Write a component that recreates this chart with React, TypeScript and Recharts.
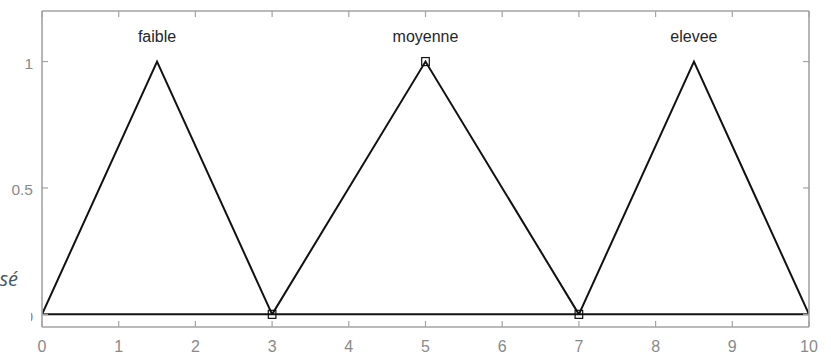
import React from 'react';
import { ComposedChart, Line, Scatter, XAxis, YAxis } from 'recharts';

// Triangular membership functions: feet (a, c) and peak (b)
const mfNames = ['faible', 'moyenne', 'elevee'];
const mfA = [0, 3, 7];
const mfB = [1.5, 5, 8.5];
const mfC = [3, 7, 10];

// Highlighted points (square markers)
const markerX = [3, 5, 7];
const markerY = [0, 1, 0];

// Universe of discourse baseline
const baseX = [0, 10];
const baseY = [0, 0];

const xTicks = [0, 1, 2, 3, 4, 5, 6, 7, 8, 9, 10];
const yTicks = [0, 0.5, 1];
const yLabels = ['0', '0.5', '1'];

const labelLevel = 1.1;

const W = 831;
const H = 354;
const BOX = '#a3a3a3';
const TICK_TXT = '#8a8a8a';
const FONT = '"Liberation Sans", Arial, sans-serif';
const TICK_LEN = 6;

const mfSeries = mfNames.map((name, i) => ({
  name,
  points: [
    { x: mfA[i], y: 0 },
    { x: mfB[i], y: 1 },
    { x: mfC[i], y: 0 },
  ],
}));
const markers = markerX.map((x, i) => ({ x, y: markerY[i] }));
const baseline = baseX.map((x, i) => ({ x, y: baseY[i] }));
const mfLabels = mfNames.map((name, i) => ({ x: mfB[i], y: labelLevel, name }));

const BottomTick = (p: any) => (
  <g>
    <line x1={p.x} x2={p.x} y1={p.y} y2={p.y - TICK_LEN} stroke={BOX} strokeWidth={1.2} />
    <text x={p.x} y={p.y + 25} textAnchor="middle" fontSize={16} fontFamily={FONT} fill={TICK_TXT}>
      {p.payload.value}
    </text>
  </g>
);

const TopTick = (p: any) => (
  <line x1={p.x} x2={p.x} y1={p.y} y2={p.y + TICK_LEN} stroke={BOX} strokeWidth={1.2} />
);

const LeftTick = (p: any) => {
  const idx = yTicks.indexOf(p.payload.value);
  return (
    <g>
      <line x1={p.x} x2={p.x + TICK_LEN} y1={p.y} y2={p.y} stroke={BOX} strokeWidth={1.2} />
      <text x={p.x - 9} y={p.y + 7.5} textAnchor="end" fontSize={15.5} fontFamily={FONT} fill={TICK_TXT}>
        {idx >= 0 ? yLabels[idx] : p.payload.value}
      </text>
    </g>
  );
};

const RightTick = (p: any) => (
  <line x1={p.x} x2={p.x - TICK_LEN} y1={p.y} y2={p.y} stroke={BOX} strokeWidth={1.2} />
);

const SquareMarker = (p: any) => (
  <rect x={p.cx - 3.8} y={p.cy - 4} width={7.6} height={8} fill="none" stroke="#111" strokeWidth={1.2} />
);

const MfLabel = (p: any) => (
  <text x={p.cx} y={p.cy + 6} textAnchor="middle" fontSize={16} fontFamily={FONT} fill="#262626">
    {p.payload.name}
  </text>
);

export default function App() {
  return (
    <div style={{ position: 'absolute', left: 0, top: 0, width: W, height: H, background: '#fff' }}>
      <ComposedChart width={W} height={H} margin={{ top: 0, right: 0, bottom: 0, left: 0 }}>
        <XAxis
          dataKey="x"
          type="number"
          domain={[0, 10]}
          ticks={xTicks}
          height={27}
          allowDataOverflow
          axisLine={{ stroke: BOX, strokeWidth: 1.6 }}
          tickLine={false}
          tickSize={0}
          tickMargin={0}
          tick={<BottomTick />}
          interval={0}
        />
        <XAxis
          xAxisId="top"
          orientation="top"
          dataKey="x"
          type="number"
          domain={[0, 10]}
          ticks={xTicks}
          height={11}
          allowDataOverflow
          axisLine={{ stroke: BOX, strokeWidth: 1.6 }}
          tickLine={false}
          tickSize={0}
          tickMargin={0}
          tick={<TopTick />}
          interval={0}
        />
        <YAxis
          dataKey="y"
          type="number"
          domain={[-0.05, 1.2]}
          ticks={yTicks}
          width={42}
          allowDataOverflow
          axisLine={{ stroke: BOX, strokeWidth: 1.6 }}
          tickLine={false}
          tickSize={0}
          tickMargin={0}
          tick={<LeftTick />}
          interval={0}
        />
        <YAxis
          yAxisId="right"
          orientation="right"
          dataKey="y"
          type="number"
          domain={[-0.05, 1.2]}
          ticks={yTicks}
          width={22}
          allowDataOverflow
          axisLine={{ stroke: BOX, strokeWidth: 1.6 }}
          tickLine={false}
          tickSize={0}
          tickMargin={0}
          tick={<RightTick />}
          interval={0}
        />
        <Line
          data={baseline}
          dataKey="y"
          stroke="#111"
          strokeWidth={2}
          dot={false}
          isAnimationActive={false}
        />
        {mfSeries.map((s) => (
          <Line
            key={s.name}
            data={s.points}
            dataKey="y"
            name={s.name}
            stroke="#111"
            strokeWidth={2}
            dot={false}
            isAnimationActive={false}
          />
        ))}
        <Scatter data={markers} dataKey="y" shape={<SquareMarker />} isAnimationActive={false} />
        <Scatter data={mfLabels} dataKey="y" shape={<MfLabel />} isAnimationActive={false} />
      </ComposedChart>
      <svg
        width={31}
        height={100}
        style={{ position: 'absolute', left: 0, top: 230 }}
      >
        <rect x={0} y={0} width={31} height={100} fill="#fff" />
        <text
          x={18}
          y={56}
          textAnchor="end"
          fontSize={20}
          fontStyle="italic"
          fontFamily='"Open Sans", sans-serif'
          fill="#44546a"
        >
          sé
        </text>
      </svg>
    </div>
  );
}
